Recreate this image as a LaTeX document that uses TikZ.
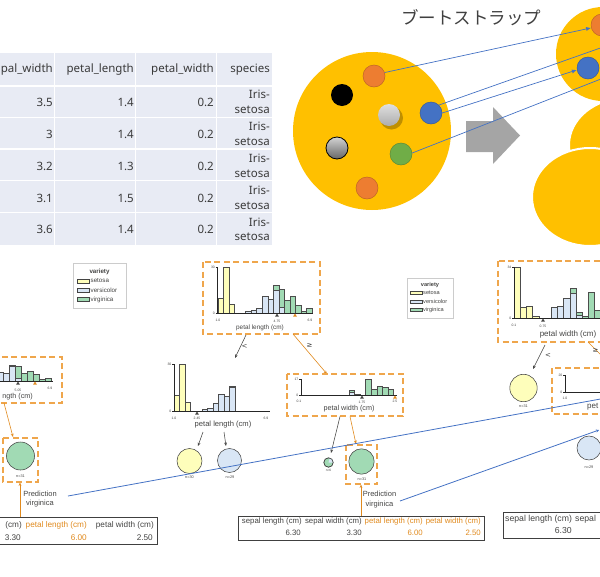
\documentclass[tikz,border=0pt]{standalone}
\usepackage{fontspec}
\setmainfont{Liberation Sans}
\newfontfamily\jpfont{Noto Sans CJK JP}
\newfontfamily\tabfont{Noto Sans}
\newfontfamily\djv{DejaVu Sans}
\usetikzlibrary{arrows.meta}
\definecolor{gold}{HTML}{FFC000}
\definecolor{orng}{HTML}{ED7D31}
\definecolor{blu}{HTML}{4472C4}
\definecolor{grn}{HTML}{70AD47}
\definecolor{garr}{HTML}{A5A5A5}
\definecolor{tabbg}{HTML}{E8EBF4}
\definecolor{tabtx}{HTML}{3A3A3A}
\definecolor{jt}{HTML}{404040}
\definecolor{vs}{HTML}{FEFEBB}
\definecolor{vv}{HTML}{D9E6F5}
\definecolor{vg}{HTML}{A1DAB4}
\definecolor{tx}{HTML}{444443}
\definecolor{hl}{HTML}{E08A1E}
\definecolor{hlb}{HTML}{EFA64C}
\newcommand\hbin[4]{\draw[barst,fill=#1] (#2,#3) rectangle ++(\bw,-#4);}
\newcommand\trimark[3]{\fill[#1] (#2,#3) -- ++(-2,3.2) -- ++(4,0) -- cycle;}
\def\bw{5.56}
\begin{document}
\begin{tikzpicture}[x=1pt,y=-1pt,
  barst/.style={draw=black!70,line width=0.4pt},
  axisl/.style={draw=black!85,line width=0.7pt},
  tk/.style={font=\fontsize{3.4}{4}\selectfont,text=tx,inner sep=0pt},
  al/.style={font=\fontsize{7.2}{8}\selectfont,text=tx,inner sep=0pt},
  hlbox/.style={draw=hlb,line width=1.2pt,dash pattern=on 6pt off 3.5pt},
  garw/.style={draw=tx,line width=0.55pt,-{Stealth[length=3.5pt,width=2.8pt]}},
  oarw/.style={draw=hl,line width=0.6pt,-{Stealth[length=3.5pt,width=2.8pt]}},
  leaf/.style={circle,draw=tx,line width=0.55pt,inner sep=0pt},
  nl/.style={font=\fontsize{3.8}{4}\selectfont,text=tx,inner sep=0pt},
  sgn/.style={font=\djv\fontsize{7}{8}\selectfont,text=tx,inner sep=0pt},
  dot/.style={circle,inner sep=0pt,minimum size=22pt,line width=0.5pt},
  tabt/.style={font=\tabfont\fontsize{11.5}{14.5}\selectfont,text=tabtx,inner sep=0pt},
  pred/.style={font=\fontsize{7.5}{9.5}\selectfont,text=tx,align=center,inner sep=0pt},
  th/.style={font=\fontsize{7.8}{9}\selectfont,text=tx,inner sep=0pt},
  tho/.style={th,text=hl},
  lg/.style={font=\fontsize{6.2}{7}\selectfont,text=tx,inner sep=0pt},
  bline/.style={draw=blu,line width=0.8pt},
  barr/.style={draw=blu,line width=0.7pt,-{Latex[length=5pt,width=4pt]}}]
\useasboundingbox (0,0) rectangle (600,576);
\clip (0,0) rectangle (600,576);
% ---------------- table
\fill[tabbg] (0,53) rectangle (272,245);
\foreach \xx in {54.5,135.5,216.5} \draw[white,line width=1.5pt] (\xx,53) -- (\xx,245);
\foreach \yy in {86,117.5,149,180.5,212.5} \draw[white,line width=1.5pt] (0,\yy) -- (272,\yy);
\node[tabt,anchor=east] (h1) at (53,70) {pal\_width};
\node[tabt,anchor=east] (h2) at (134,70) {petal\_length};
\node[tabt,anchor=east] (h3) at (214,70) {petal\_width};
\node[tabt,anchor=east] (h4) at (270,70) {species};
\foreach \yy/\va/\vb/\vc [count=\i] in {102/3.5/1.4/0.2,134/3/1.4/0.2,166/3.2/1.3/0.2,198/3.1/1.5/0.2,229.5/3.6/1.4/0.2}{
  \node[tabt,anchor=east] (ca\i) at (53,\yy) {\va};
  \node[tabt,anchor=east] (cb\i) at (134,\yy) {\vb};
  \node[tabt,anchor=east] (cc\i) at (214,\yy) {\vc};
  \node[tabt,anchor=east,align=right] (cd\i) at (270,\yy) {Iris-\\setosa};
}
% ---------------- bootstrap
\node[font=\jpfont\fontsize{17.5}{20}\selectfont,text=jt,inner sep=0pt] (title) at (471,18) {ブートストラップ};
\fill[gold] (372,131) circle (79);
\node[dot,fill=orng,draw=orng!80!black] (c1) at (374,76) {};
\node[dot,fill=black] (c2) at (342,95) {};
\fill[black,opacity=0.25] (391.5,118) circle (11.5);
\node[dot,top color=gray!25,bottom color=gray!65] (c3) at (389,115) {};
\node[dot,fill=blu,draw=blu!80!black] (c4) at (431,113) {};
\node[dot,top color=gray!35,bottom color=gray!80!black,draw=black,line width=0.8pt] (c5) at (337,148) {};
\node[dot,fill=grn,draw=grn!80!black] (c6) at (401,154) {};
\node[dot,fill=orng,draw=orng!80!black] (c7) at (367,188) {};
\fill[garr] (466,121) -- (493,121) -- (493,107) -- (520,135.5) -- (493,164) -- (493,152) -- (466,152) -- cycle;
\fill[gold] (603,54) circle (47);
\node[dot,fill=orng,draw=orng!80!black] (r1) at (602,25) {};
\node[dot,fill=blu,draw=blu!80!black] (r2) at (588,68) {};
\filldraw[gold,draw=white,line width=2pt] (626,145) ellipse [x radius=57,y radius=47];
\filldraw[gold,draw=white,line width=2pt] (590,197) ellipse [x radius=58,y radius=49];
\coordinate (o2) at (606,46);
\coordinate (o4) at (606,77);
\draw[barr] (c1.18) -- (r1.195);
\draw[bline,line width=0.7pt] (c4.45) -- (o2);
\draw[barr] (c4.0) -- (r2.190);
\draw[bline,line width=0.7pt] (c6.5) -- (o4);
% ---------------- legends
\draw[black!20,fill=white,line width=0.6pt] (73,263) rectangle (126,308);
\node[lg,font=\bfseries\fontsize{6.2}{7}\selectfont] (lg1t) at (99.5,272) {variety};
\foreach \yy/\cc/\lbl [count=\i] in {281/vs/setosa,290/vv/versicolor,299.5/vg/virginica}{
  \draw[draw=tx,line width=0.5pt,fill=\cc] (77,\yy-1.8) rectangle (89.5,\yy+1.8);
  \node[lg,anchor=west] (lg1e\i) at (90.5,\yy) {\lbl};
}
\draw[black!20,fill=white,line width=0.6pt] (407,278) rectangle (453,318);
\node[lg,font=\bfseries\fontsize{5.6}{6}\selectfont] (lg2t) at (430,285.5) {variety};
\foreach \yy/\cc/\lbl [count=\i] in {293/vs/setosa,301.5/vv/versicolor,310/vg/virginica}{
  \draw[draw=tx,line width=0.5pt,fill=\cc] (410.5,\yy-1.7) rectangle (422,\yy+1.7);
  \node[lg,font=\fontsize{5.6}{6}\selectfont,anchor=west] (lg2e\i) at (423,\yy) {\lbl};
}
% ---------------- tree 1 (cut)
\draw[hlbox] (-10,357) rectangle (62,403);
\def\bw{6}
\hbin{vv}{-3.3}{381}{8.7}
\hbin{vv}{2.7}{381}{7.7}
\hbin{vv}{8.7}{381}{15} \hbin{vg}{8.7}{366}{1.2}
\hbin{vv}{14.7}{381}{3} \hbin{vg}{14.7}{378}{12}
\hbin{vg}{20.7}{381}{8.3}
\hbin{vg}{26.7}{381}{10}
\hbin{vg}{32.7}{381}{6.7}
\hbin{vg}{38.7}{381}{1.7}
\hbin{vg}{44.7}{381}{3.3}
\draw[axisl] (-5,381) -- (53,381);
\trimark{tx}{18}{381.5} \trimark{hl}{35}{381.5}
\node[tk] (t1x1) at (18,390) {5.05};
\node[tk] (t1x2) at (50,388) {6.9};
\node[al,anchor=east] (t1xl) at (33,397) {ngth (cm)};
\coordinate (t1as) at (4,403); \coordinate (t1ae) at (13,437);
\draw[oarw] (t1as) -- (t1ae);
\draw[hlbox] (3,438) rectangle (38,482);
\node[leaf,fill=vg,minimum size=28pt] (t1leaf) at (20.5,456) {};
\node[nl] (t1n) at (20.5,476) {n=31};
\node[pred] (t1pred) at (40,499) {Prediction\\virginica};
\coordinate (t1tt) at (20,517); \coordinate (t1lb) at (20,482.5);
\draw[oarw] (t1tt) -- (t1lb);
\draw[black!75,line width=1pt] (-5,517) rectangle (157,544);
\node[th,font=\fontsize{8.2}{9}\selectfont,anchor=east] (t1h1) at (22,525) {(cm)};
\node[tho,font=\fontsize{8.2}{9}\selectfont,anchor=east] (t1h2) at (87,525) {petal length (cm)};
\node[th,font=\fontsize{8.2}{9}\selectfont,anchor=east] (t1h3) at (154,525) {petal width (cm)};
\node[th,font=\fontsize{8.2}{9}\selectfont,anchor=east] (t1v1) at (21,538) {3.30};
\node[tho,font=\fontsize{8.2}{9}\selectfont,anchor=east] (t1v2) at (87,538) {6.00};
\node[th,font=\fontsize{8.2}{9}\selectfont,anchor=east] (t1v3) at (153,538) {2.50};
% ---------------- tree 2 root
\draw[hlbox] (203,262) rectangle (320,334);
\def\bw{5.56}
\hbin{vs}{217.7}{313}{15.3}
\hbin{vs}{223.26}{313}{46}
\hbin{vs}{228.82}{313}{9.2}
\hbin{vv}{245.5}{313}{1.6}
\hbin{vv}{251.06}{313}{2.6}
\hbin{vv}{256.62}{313}{5.2}
\hbin{vv}{262.18}{313}{16.9}
\hbin{vv}{267.74}{313}{13.8}
\hbin{vv}{273.3}{313}{23} \hbin{vg}{273.3}{290}{4.9}
\hbin{vv}{278.86}{313}{6} \hbin{vg}{278.86}{307}{17.6}
\hbin{vg}{284.42}{313}{12.4}
\hbin{vg}{289.98}{313}{16.4}
\hbin{vg}{295.54}{313}{8.3}
\hbin{vg}{301.1}{313}{2.3}
\hbin{vg}{306.66}{313}{4.9}
\draw[axisl] (217.7,267) -- (217.7,313) -- (312.5,313);
\draw[axisl] (215.7,267) -- (217.7,267) (215.7,313) -- (217.7,313);
\node[tk,anchor=east] (t2ry1) at (215,267) {30};
\node[tk,anchor=east] (t2ry0) at (215,313) {0};
\trimark{tx}{277}{313.5} \trimark{hl}{295}{313.5}
\node[tk] (t2rx1) at (218,320) {1.0};
\node[tk] (t2rx2) at (277,321) {4.75};
\node[tk] (t2rx3) at (310,320) {6.9};
\node[al,font=\fontsize{6.4}{7}\selectfont] (t2rl) at (260,328) {petal length (cm)};
\coordinate (t2a1s) at (246,335); \coordinate (t2a1e) at (235,358);
\draw[garw] (t2a1s) -- (t2a1e);
\node[sgn] (t2lt) at (244.5,346) {<};
\coordinate (t2a2s) at (293,334); \coordinate (t2a2e) at (327,374);
\draw[oarw] (t2a2s) -- (t2a2e);
\node[sgn] (t2ge) at (309.5,345) {≥};
% tree 2 left child
\hbin{vs}{174}{411}{15.7}
\hbin{vs}{179.56}{411}{47}
\hbin{vs}{185.12}{411}{8.6}
\hbin{vv}{201.8}{411}{1.6}
\hbin{vv}{207.36}{411}{2.7}
\hbin{vv}{212.92}{411}{8.3}
\hbin{vv}{218.48}{411}{17.3}
\hbin{vv}{224.04}{411}{15}
\hbin{vv}{229.6}{411}{23.5} \hbin{vg}{229.6}{387.5}{1.6}
\draw[axisl] (174,364) -- (174,411) -- (270,411);
\draw[axisl] (172,364) -- (174,364) (172,411) -- (174,411);
\node[tk,anchor=east] (t2ly1) at (171.5,364) {30};
\node[tk,anchor=east] (t2ly0) at (171.5,411) {0};
\trimark{tx}{197}{411.5}
\node[tk] (t2lx1) at (174,418) {1.0};
\node[tk] (t2lx2) at (197,418) {2.45};
\node[tk] (t2lx3) at (266,418) {6.9};
\node[al,font=\fontsize{7.6}{8}\selectfont] (t2ll) at (223,425) {petal length (cm)};
\coordinate (t2b1s) at (203,432); \coordinate (t2b1e) at (198,446);
\coordinate (t2b2s) at (224,432); \coordinate (t2b2e) at (226,446);
\draw[garw] (t2b1s) -- (t2b1e);
\draw[garw] (t2b2s) -- (t2b2e);
\node[leaf,fill=vs,minimum size=25pt] (t2ly) at (189.5,461) {};
\node[nl] (t2lyn) at (189.5,477) {n=30};
\node[leaf,fill=vv,minimum size=24pt] (t2lb) at (229.5,460.5) {};
\node[nl] (t2lbn) at (230,477) {n=29};
% tree 2 right child
\draw[hlbox] (287,374) rectangle (403,416);
\hbin{vv}{349}{395}{2.4} \hbin{vg}{349}{392.6}{2.8}
\hbin{vv}{354.56}{395}{1}
\hbin{vg}{365.68}{395}{16}
\hbin{vg}{371.24}{395}{5.6}
\hbin{vg}{376.8}{395}{8.5}
\hbin{vg}{382.36}{395}{7.8}
\hbin{vg}{387.92}{395}{5.6}
\draw[axisl] (301,379) -- (301,395) -- (397,395);
\draw[axisl] (299,379) -- (301,379) (299,395) -- (301,395);
\node[tk,anchor=east] (t2qy1) at (298.5,379.5) {17};
\node[tk,anchor=east] (t2qy0) at (298.5,395) {0};
\trimark{tx}{362}{395.5} \trimark{hl}{395}{395.5}
\node[tk] (t2qx1) at (299,401.5) {0.1};
\node[tk] (t2qx2) at (362,402.5) {1.75};
\node[tk] (t2qx3) at (395,401.5) {2.5};
\node[al] (t2ql) at (349,409) {petal width (cm)};
\coordinate (t2c1s) at (340,416.5); \coordinate (t2c1e) at (331,453);
\draw[garw] (t2c1s) -- (t2c1e);
\coordinate (t2c2s) at (350,416.5); \coordinate (t2c2e) at (356,444);
\draw[oarw] (t2c2s) -- (t2c2e);
\node[leaf,fill=vg,minimum size=9.4pt] (t2pie) at (328.5,462.5) {};
\fill[vv] (t2pie.center) -- +(0:4.4) arc[start angle=0,end angle=-75,radius=4.4] -- cycle;
\draw[tx,line width=0.5pt] (t2pie.center) circle (4.7);
\node[nl,font=\fontsize{3.2}{4}\selectfont] (t2pien) at (328.5,470.5) {n=6};
\draw[hlbox] (346,445) rectangle (377,484);
\node[leaf,fill=vg,minimum size=25.4pt] (t2leaf) at (361.5,461.5) {};
\node[nl] (t2leafn) at (362,479) {n=31};
\node[pred] (t2pred) at (379.5,499.5) {Prediction\\virginica};
\coordinate (t2tt) at (361,516); \coordinate (t2lbot) at (361,484.5);
\draw[oarw] (t2tt) -- (t2lbot);
\draw[black!75,line width=1pt] (238,516) rectangle (484,540);
\node[th,anchor=east] (t2h1) at (302,521) {sepal length (cm)};
\node[th,anchor=east] (t2h2) at (362,521) {sepal width (cm)};
\node[tho,anchor=east] (t2h3) at (423,521) {petal length (cm)};
\node[tho,anchor=east] (t2h4) at (481,521) {petal width (cm)};
\node[th,anchor=east] (t2v1) at (301,533) {6.30};
\node[th,anchor=east] (t2v2) at (362,533) {3.30};
\node[tho,anchor=east] (t2v3) at (423,533) {6.00};
\node[tho,anchor=east] (t2v4) at (481,533) {2.50};
% ---------------- tree 3
\draw[hlbox] (498,261) rectangle (615,342);
\def\bw{6.2}
\hbin{vs}{514}{318}{51}
\hbin{vs}{520.2}{318}{10.8}
\hbin{vs}{526.4}{318}{12}
\hbin{vs}{532.6}{318}{1.5}
\hbin{vv}{551.2}{318}{10.5}
\hbin{vv}{557.4}{318}{12}
\hbin{vv}{563.6}{318}{19.5}
\hbin{vv}{569.8}{318}{25} \hbin{vg}{569.8}{293}{5}
\hbin{vv}{576}{318}{3.3} \hbin{vg}{576}{314.7}{2.7}
\hbin{vg}{582.2}{318}{2.3}
\hbin{vg}{588.4}{318}{25.5}
\hbin{vg}{594.6}{318}{8.3}
\draw[axisl] (514,267) -- (514,318) -- (610,318);
\draw[axisl] (512,267) -- (514,267) (512,318) -- (514,318);
\node[tk,anchor=east] (t3y1) at (511.5,267) {34};
\node[tk,anchor=east] (t3y0) at (511.5,318) {0};
\trimark{tx}{543}{318.5}
\node[tk] (t3x1) at (514,325) {0.1};
\node[tk] (t3x2) at (543,326.5) {0.75};
\node[al,font=\fontsize{8}{9}\selectfont] (t3l) at (568,334) {petal width (cm)};
\coordinate (t3a1s) at (545,345); \coordinate (t3a1e) at (533,369);
\draw[garw] (t3a1s) -- (t3a1e);
\node[sgn] (t3lt) at (548,355) {<};
\coordinate (t3a2s) at (588,342); \coordinate (t3a2e) at (606,360);
\draw[oarw] (t3a2s) -- (t3a2e);
\node[sgn] (t3ge) at (595.5,350) {≥};
\node[leaf,fill=vs,minimum size=27.4pt] (t3ly) at (523.5,388) {};
\node[nl] (t3lyn) at (523.5,406) {n=31};
\draw[hlbox] (552,368) rectangle (615,414);
\draw[axisl] (565,375) -- (565,392) -- (610,392);
\draw[axisl] (563,375) -- (565,375) (563,392) -- (565,392);
\node[tk,anchor=east] (t3qy1) at (562.5,375) {20};
\node[tk,anchor=east] (t3qy0) at (562.5,392) {0};
\node[tk] (t3qx1) at (565,398) {1.0};
\node[al,font=\fontsize{8}{9}\selectfont,anchor=west] (t3ql) at (587,407) {pet};
\node[leaf,fill=vv,minimum size=24pt] (t3lb) at (589,448) {};
\node[nl] (t3lbn) at (589,467) {n=29};
\draw[black!75,line width=1pt] (503,512) rectangle (615,538);
\node[th,font=\fontsize{8.7}{9}\selectfont,anchor=west] (t3h1) at (505,519) {sepal length (cm)};
\node[th,font=\fontsize{8.7}{9}\selectfont,anchor=west] (t3h2) at (575,519) {sepal};
\node[th,font=\fontsize{8.7}{9}\selectfont,anchor=east] (t3v1) at (572,530) {6.30};
% ---------------- blue links
\coordinate (l1s) at (68,496); \coordinate (l1e) at (606,398);
\draw[bline] (l1s) -- (l1e);
\coordinate (l2s) at (400,501); \coordinate (l2e) at (599,430);
\draw[bline,-{Stealth[length=3pt,width=3pt]}] (l2s) -- (l2e);
\end{tikzpicture}
\end{document}
